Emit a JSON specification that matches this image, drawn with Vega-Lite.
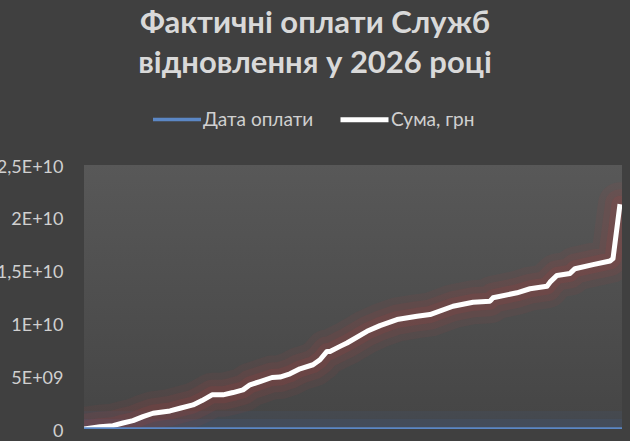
{
  "$schema": "https://vega.github.io/schema/vega-lite/v6.json",
  "width": 538,
  "height": 264,
  "autosize": {"type": "none"},
  "padding": {"left": 84, "top": 165, "right": 8, "bottom": 12},
  "background": "#404040",
  "title": {
    "text": ["Фактичні оплати Служб", "відновлення у 2026 році"],
    "font": "Lato",
    "fontSize": 31,
    "fontWeight": "bold",
    "lineHeight": 40,
    "color": "#d9d9d9",
    "anchor": "middle",
    "dx": -38,
    "offset": 13
  },
  "datasets": {
    "pay": [
      {"n": 0, "s": "Сума, грн", "v": 0},
      {"n": 16, "s": "Сума, грн", "v": 219000000},
      {"n": 29, "s": "Сума, грн", "v": 314000000},
      {"n": 39, "s": "Сума, грн", "v": 570000000},
      {"n": 49, "s": "Сума, грн", "v": 789000000},
      {"n": 59, "s": "Сума, грн", "v": 1169000000},
      {"n": 69, "s": "Сума, грн", "v": 1492000000},
      {"n": 86, "s": "Сума, грн", "v": 1711000000},
      {"n": 96, "s": "Сума, грн", "v": 1968000000},
      {"n": 109, "s": "Сума, грн", "v": 2281000000},
      {"n": 118, "s": "Сума, грн", "v": 2690000000},
      {"n": 128, "s": "Сума, грн", "v": 3232000000},
      {"n": 139, "s": "Сума, грн", "v": 3232000000},
      {"n": 149, "s": "Сума, грн", "v": 3451000000},
      {"n": 159, "s": "Сума, грн", "v": 3707000000},
      {"n": 166, "s": "Сума, грн", "v": 4183000000},
      {"n": 176, "s": "Сума, грн", "v": 4496000000},
      {"n": 188, "s": "Сума, грн", "v": 4877000000},
      {"n": 196, "s": "Сума, грн", "v": 4915000000},
      {"n": 206, "s": "Сума, грн", "v": 5228000000},
      {"n": 216, "s": "Сума, грн", "v": 5704000000},
      {"n": 229, "s": "Сума, грн", "v": 6084000000},
      {"n": 236, "s": "Сума, грн", "v": 6559000000},
      {"n": 243, "s": "Сума, грн", "v": 7348000000},
      {"n": 246, "s": "Сума, грн", "v": 7348000000},
      {"n": 256, "s": "Сума, грн", "v": 7823000000},
      {"n": 263, "s": "Сума, грн", "v": 8147000000},
      {"n": 283, "s": "Сума, грн", "v": 9249000000},
      {"n": 296, "s": "Сума, грн", "v": 9791000000},
      {"n": 313, "s": "Сума, грн", "v": 10362000000},
      {"n": 333, "s": "Сума, грн", "v": 10675000000},
      {"n": 346, "s": "Сума, грн", "v": 10837000000},
      {"n": 369, "s": "Сума, грн", "v": 11626000000},
      {"n": 389, "s": "Сума, грн", "v": 12006000000},
      {"n": 406, "s": "Сума, грн", "v": 12101000000},
      {"n": 409, "s": "Сума, грн", "v": 12424000000},
      {"n": 433, "s": "Сума, грн", "v": 12900000000},
      {"n": 446, "s": "Сума, грн", "v": 13280000000},
      {"n": 463, "s": "Сума, грн", "v": 13527000000},
      {"n": 466, "s": "Сума, грн", "v": 13907000000},
      {"n": 473, "s": "Сума, грн", "v": 14544000000},
      {"n": 486, "s": "Сума, грн", "v": 14734000000},
      {"n": 491, "s": "Сума, грн", "v": 15181000000},
      {"n": 509, "s": "Сума, грн", "v": 15561000000},
      {"n": 526, "s": "Сума, грн", "v": 15904000000},
      {"n": 529, "s": "Сума, грн", "v": 16132000000},
      {"n": 536, "s": "Сума, грн", "v": 21293000000},
      {"n": 0, "s": "Дата оплати", "v": 46023},
      {"n": 134, "s": "Дата оплати", "v": 46050},
      {"n": 269, "s": "Дата оплати", "v": 46080},
      {"n": 403, "s": "Дата оплати", "v": 46110},
      {"n": 538, "s": "Дата оплати", "v": 46140}
    ]
  },
  "data": {"name": "pay"},
  "encoding": {
    "x": {
      "field": "n",
      "type": "quantitative",
      "scale": {"domain": [0, 538], "nice": false, "zero": false},
      "axis": null
    },
    "y": {
      "field": "v",
      "type": "quantitative",
      "scale": {"domain": [0, 25000000000], "nice": false},
      "axis": {
        "title": null,
        "values": [0, 5000000000, 10000000000, 15000000000, 20000000000, 25000000000],
        "labelExpr": "datum.value == 0 ? '0' : datum.value == 5000000000 ? '5E+09' : replace(format(datum.value / 10000000000, '~g'), '.', ',') + 'E+10'",
        "labelFont": "Lato",
        "labelFontSize": 18,
        "labelColor": "#d0d0d0",
        "labelPadding": 21,
        "labelOffset": 2,
        "ticks": false,
        "domain": false,
        "grid": false
      }
    }
  },
  "layer": [
    {
      "transform": [{"filter": "datum.s == 'Дата оплати'"}],
      "mark": {"type": "line", "color": "#4472c4", "strokeWidth": 36, "opacity": 0.08, "clip": true}
    },
    {
      "transform": [{"filter": "datum.s == 'Дата оплати'"}],
      "mark": {"type": "line", "color": "#4472c4", "strokeWidth": 20, "opacity": 0.1, "clip": true}
    },
    {
      "transform": [{"filter": "datum.s == 'Сума, грн'"}],
      "mark": {"type": "line", "color": "#b04040", "strokeWidth": 44, "opacity": 0.09, "clip": true, "strokeJoin": "round", "strokeCap": "round"}
    },
    {
      "transform": [{"filter": "datum.s == 'Сума, грн'"}],
      "mark": {"type": "line", "color": "#b04040", "strokeWidth": 30, "opacity": 0.12, "clip": true, "strokeJoin": "round", "strokeCap": "round"}
    },
    {
      "transform": [{"filter": "datum.s == 'Сума, грн'"}],
      "mark": {"type": "line", "color": "#b04040", "strokeWidth": 17, "opacity": 0.16, "clip": true, "strokeJoin": "round", "strokeCap": "round"}
    },
    {
      "mark": {"type": "line", "clip": true, "strokeJoin": "round"},
      "encoding": {
        "color": {
          "field": "s",
          "type": "nominal",
          "scale": {"domain": ["Дата оплати", "Сума, грн"], "range": ["#5b87c5", "#ffffff"]},
          "legend": {
            "title": null,
            "orient": "none",
            "direction": "horizontal",
            "legendX": 67,
            "legendY": -72,
            "symbolType": "stroke",
            "symbolSize": 2304,
            "symbolStrokeWidth": 4,
            "labelFont": "Lato",
            "labelFontSize": 19,
            "labelColor": "#d0d0d0",
            "labelOffset": 0,
            "columnPadding": 16
          }
        },
        "strokeWidth": {
          "field": "s",
          "type": "nominal",
          "scale": {"domain": ["Дата оплати", "Сума, грн"], "range": [3.5, 5]},
          "legend": null
        }
      }
    }
  ],
  "config": {
    "view": {
      "stroke": null,
      "fill": {
        "gradient": "linear",
        "x1": 0, "y1": 0, "x2": 0, "y2": 1,
        "stops": [
          {"offset": 0, "color": "#585858"},
          {"offset": 1, "color": "#454545"}
        ]
      }
    }
  }
}
